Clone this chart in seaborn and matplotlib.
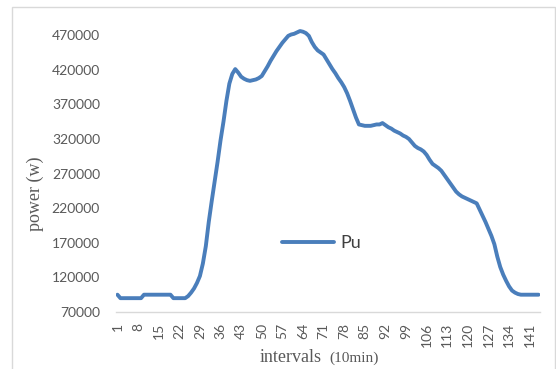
import matplotlib
matplotlib.use("Agg")
import matplotlib.pyplot as plt
from matplotlib.patches import Rectangle
import seaborn as sns
import pandas as pd

# Power drawn per 10-minute interval over one day (144 intervals)
intervals = list(range(1, 145))
power = [
    95000, 90000, 90000, 90000, 90000, 90000, 90000, 90000, 90000, 95000,
    95000, 95000, 95000, 95000, 95000, 95000, 95000, 95000, 95000, 90000,
    90000, 90000, 90000, 90000, 93000, 98000, 104000, 112000, 122000, 140000,
    165000, 200000, 230000, 258000, 287000, 318000, 345000, 375000, 400000, 414000,
    421000, 416000, 410000, 407000, 405000, 404000, 405000, 406000, 408000, 411000,
    418000, 425000, 433000, 440000, 447000, 453000, 459000, 464000, 469000, 471000,
    472000, 474000, 476000, 475000, 473000, 469000, 460000, 453000, 448000, 445000,
    442000, 435000, 428000, 421000, 415000, 408000, 402000, 395000, 386000, 375000,
    363000, 351000, 341000, 340000, 339000, 339000, 339000, 340000, 341000, 341000,
    343000, 340000, 337000, 335000, 332000, 330000, 328000, 325000, 323000, 320000,
    315000, 310000, 307000, 305000, 302000, 297000, 290000, 284000, 281000, 278000,
    274000, 268000, 262000, 256000, 250000, 244000, 240000, 237000, 235000, 233000,
    231000, 229000, 227000, 218000, 209000, 200000, 190000, 180000, 168000, 150000,
    135000, 124000, 115000, 107000, 101000, 98000, 96000, 95000, 95000, 95000,
    95000, 95000, 95000, 95000,
]
y_ticks = [70000, 120000, 170000, 220000, 270000, 320000, 370000, 420000, 470000]
x_tick_labels = list(range(1, 145, 7))

sns.set_style("white")
plt.rcParams["font.family"] = ["Lato", "DejaVu Sans"]

W, H = 556, 369
fig = plt.figure(figsize=(W / 100, H / 100), dpi=100)
fig.patch.set_facecolor("white")

# outer chart border
fig.patches.append(Rectangle((12 / W, -0.05), (555 - 12) / W, 1 - 7 / H + 0.05,
                             transform=fig.transFigure, fill=False,
                             edgecolor="#d9d9d9", linewidth=1.0))

left, right, bottom = 116 / W, 540 / W, 1 - 312 / H
top = 1 - 24.8 / H
ax = fig.add_axes([left, bottom, right - left, top - bottom])

df = pd.DataFrame({"pos": [i - 1 for i in intervals], "power": power})
sns.lineplot(data=df, x="pos", y="power", ax=ax, color="#4a7ebb",
             linewidth=2.8, label="Pu")

ax.set_xlim(-0.5, 143.5)
ax.set_ylim(70000, 485000)
ax.set_yticks(y_ticks)
ax.set_yticklabels([str(v) for v in y_ticks])
ax.set_xticks([v - 1 for v in x_tick_labels])
ax.set_xticklabels([str(v) for v in x_tick_labels], rotation=90)
ax.tick_params(axis="y", length=0, pad=11.5, labelsize=10, labelcolor="#595959")
ax.tick_params(axis="x", length=0, pad=8, labelsize=10, labelcolor="#595959")
ax.set_xlabel("")
ax.set_ylabel("")
for s in ["top", "right", "left"]:
    ax.spines[s].set_visible(False)
ax.spines["bottom"].set_color("#d9d9d9")
ax.spines["bottom"].set_linewidth(1.0)

leg = ax.legend(loc="center left", bbox_to_anchor=(282 / W, 1 - 243 / H),
                bbox_transform=fig.transFigure, frameon=False, borderpad=0,
                borderaxespad=0, handlelength=2.9, handletextpad=0.35,
                fontsize=13)
for t in leg.get_texts():
    t.set_color("#404040")

fig.text(35 / W, 1 - 193.5 / H, "power (w)", rotation=90, ha="center",
         va="center", family="Liberation Serif", fontsize=13, color="#595959")
fig.text(260 / W, 1 - 362 / H, "intervals", ha="left", va="baseline",
         family="Liberation Serif", fontsize=13, color="#595959")
fig.text(329 / W, 1 - 362 / H, "(10min)", ha="left", va="baseline",
         family="Liberation Serif", fontsize=11, color="#595959")

fig.savefig("out.png", dpi=100, facecolor="white")
